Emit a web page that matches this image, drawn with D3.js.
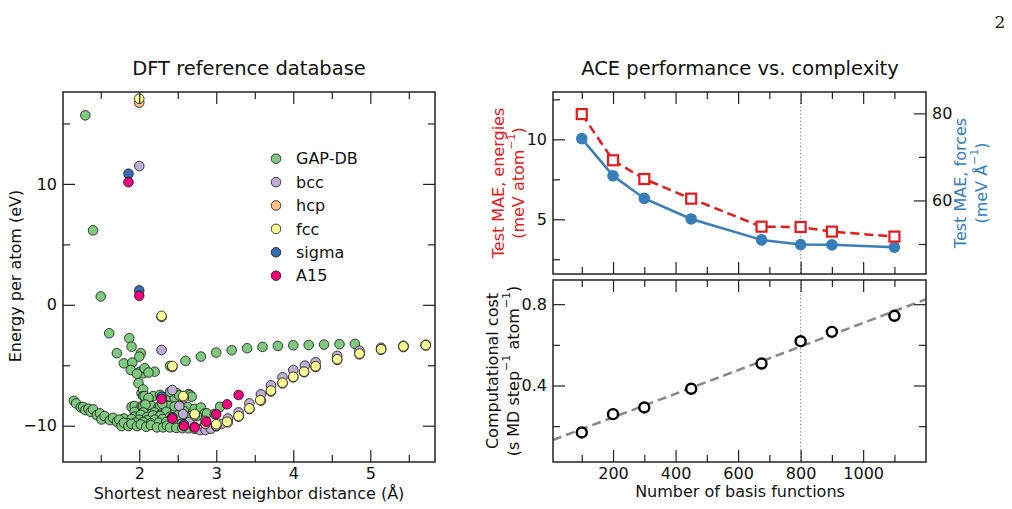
<!DOCTYPE html>
<html><head><meta charset="utf-8">
<script src="https://cdn.jsdelivr.net/npm/d3@7"></script>
<style>
body{margin:0;background:#fff}
text{font-family:"DejaVu Sans",sans-serif;fill:#111}
</style>
</head><body>
<svg id="c" width="1012" height="509"></svg>
<script>
// ---------------- data ----------------
const seriesNames = ["GAP-DB","bcc","hcp","fcc","sigma","A15"];
const gapDB = [
 [1.30,15.67],[1.40,6.16],[1.50,0.69],
 [1.61,-2.35],[1.87,-2.76],[1.90,-3.46],[1.71,-4.0],[2.02,-4.0],[2.00,-4.29],[1.80,-4.84],[1.91,-4.78],
 [1.89,-5.39],[2.01,-5.53],[2.05,-5.67],[2.20,-5.53],[2.07,-5.25],[1.97,-5.7],[2.12,-5.6],[1.99,-6.49],
 [2.40,-5.06],[2.60,-4.64],[2.80,-4.28],[3.00,-3.95],[3.20,-3.76],[3.40,-3.59],[3.60,-3.48],[3.80,-3.40],
 [4.00,-3.35],[4.20,-3.32],[4.40,-3.29],[4.60,-3.26],[4.80,-3.23],
 [2.03,-7.32],[2.05,-7.0],[2.05,-7.55],[2.07,-7.55],[2.18,-7.55],[2.27,-7.45],[2.36,-7.6],[2.40,-7.6],
 [2.46,-7.7],[2.57,-7.55],[2.64,-7.38],[2.66,-7.46],[2.68,-7.6],[2.12,-7.7],[2.40,-7.19],[2.49,-7.32],[2.52,-7.5],
 [1.90,-8.43],[1.94,-8.37],[2.03,-8.4],[2.05,-8.37],[2.14,-8.5],[2.16,-8.37],[2.25,-8.45],[2.27,-8.37],
 [2.36,-8.5],[2.38,-8.37],[2.46,-8.4],[2.55,-8.5],[2.63,-8.45],[2.72,-8.6],[2.80,-8.5],[3.05,-8.43],
 [2.08,-8.25],[2.30,-8.2],
 [1.94,-8.85],[2.05,-8.9],[2.16,-9.0],[2.20,-8.9],[2.27,-9.1],[2.35,-8.85],[2.58,-8.8],[2.85,-8.98],
 [1.94,-9.25],[2.02,-9.1],[2.10,-9.3],[2.18,-9.15],[2.27,-9.2],[2.40,-9.25],[2.50,-9.15],[2.62,-9.3],
 [2.75,-9.2],[2.88,-8.98],[2.98,-9.04],
 [1.80,-9.4],[1.90,-9.45],[2.00,-9.5],[2.10,-9.55],[2.20,-9.5],[2.30,-9.45],
 [1.85,-9.8],[1.95,-9.75],[2.05,-9.7],[2.15,-9.8],[2.25,-9.75],[2.35,-9.7],[2.45,-9.8],[2.55,-9.85],
 [1.15,-7.94],[1.18,-8.15],[1.24,-8.48],[1.27,-8.45],[1.30,-8.71],[1.34,-8.6],[1.37,-8.85],[1.40,-8.65],
 [1.45,-9.12],[1.49,-8.98],[1.51,-9.48],[1.55,-9.2],[1.62,-9.54],[1.66,-9.35],[1.71,-9.67],[1.74,-9.5],
 [1.77,-10.03],[1.80,-9.75],[1.86,-10.03],[1.90,-9.85],[1.97,-10.03],[2.02,-9.9],[2.09,-10.09],[2.15,-9.95],
 [2.23,-10.14],[2.31,-10.14],[2.36,-10.0],[2.40,-10.14],[2.48,-10.18],[2.56,-10.2],[2.64,-10.22],
 [2.72,-10.25],[2.80,-10.25],[2.88,-10.2]
];
const bcc = [
 [2.00,11.47],[2.29,-3.73],[2.43,-7.05],[2.52,-8.37],[2.57,-9.04],[2.65,-9.7],[2.72,-10.1],[2.79,-10.36],
 [2.86,-10.35],[2.93,-10.25],[3.00,-10.05],[3.07,-9.85],[3.15,-9.4],[3.29,-8.9],[3.43,-8.15],[3.58,-7.4],
 [3.71,-6.66],[3.86,-6.0],[4.00,-5.39],[4.15,-5.03],[4.29,-4.75],[4.57,-4.23],[4.86,-3.8],[5.14,-3.55],
 [5.43,-3.38],[5.72,-3.3]
];
const hcp = [
 [2.00,16.72],[2.29,-1.0],[2.43,-5.15],[2.58,-7.65],[2.72,-9.15],[2.86,-9.85],[3.00,-10.0],[3.15,-9.72],
 [3.29,-9.25],[3.43,-8.62],[3.58,-7.93],[3.71,-7.18],[3.86,-6.5],[4.00,-6.0],[4.14,-5.58],[4.29,-5.15],
 [4.57,-4.55],[4.86,-4.1],[5.14,-3.72],[5.43,-3.5],[5.72,-3.37]
];
const fcc = [
 [2.00,17.05],[2.29,-0.91],[2.43,-5.06],[2.57,-7.55],[2.72,-9.04],[2.86,-9.6],[3.00,-9.87],[3.14,-9.67],
 [3.29,-9.2],[3.43,-8.57],[3.57,-7.88],[3.71,-7.1],[3.86,-6.44],[4.00,-5.95],[4.14,-5.53],[4.29,-5.08],
 [4.57,-4.5],[4.86,-4.03],[5.14,-3.67],[5.43,-3.44],[5.72,-3.33]
];
const sigma = [[1.86,10.84],[2.00,1.19],[2.29,-7.6],[2.43,-9.3],[2.58,-9.9]];
const a15 = [
 [1.86,10.14],[2.00,0.75],[2.29,-7.8],[2.43,-9.4],[2.58,-10.03],[2.72,-10.14],[2.87,-9.67],[3.00,-9.04],
 [3.14,-8.23],[3.29,-7.46]
];

const basisN     = [100,200,300,450,675,800,900,1100];
const maeEnergy  = [11.58,8.69,7.52,6.29,4.54,4.52,4.23,3.92];
const maeForce   = [74.2,65.65,60.46,55.74,50.94,49.86,49.8,49.24];
const cost       = [0.169,0.259,0.292,0.384,0.508,0.618,0.664,0.743];
const fitX       = [8,1201];
const fitY       = [0.132,0.8245];
const selectedN  = 800;

const leftXMajor = [2,3,4,5], leftXMinor = [1.5,2.5,3.5,4.5,5.5];
const leftYMajor = [-10,0,10], leftYMinor = [-5,5,15];
const rXMajor = [200,400,600,800,1000], rXMinor = [100,300,500,700,900,1100];
const eMajor = [5,10], eMinor = [2.5,7.5,12.5];
const fMajor = [60,80], fMinor = [50,70];
const cMajor = [0.4,0.8], cMinor = [0.2,0.6];

// ---------------- setup ----------------
const svg = d3.select("#c");
const colors = {"GAP-DB":"#7fc97f","bcc":"#beaed4","hcp":"#fdc086","fcc":"#ffff99","sigma":"#386cb0","A15":"#f0027f"};
const red = "#e41a1c", blue = "#377eb8";
const fmt = d => String(d).replace("-", "\u2212");
const FS = 16, MAJ = 12, MIN = 7;

function styleAxis(gg){
  gg.select(".domain").remove();
  gg.selectAll("line").attr("stroke","#222").attr("stroke-width",1.2);
  gg.selectAll("text").attr("font-size",FS).attr("fill","#111").style("font-family","DejaVu Sans");
}
function frameAxes(g, x, y, opts){
  const [x0,x1] = x.range(), [y0,y1] = y.range();
  const mk = (axis, vals, size, format, tx, ty) => {
    const a = axis.tickValues(vals).tickSizeInner(-size).tickSizeOuter(0).tickPadding(6)
      .tickFormat(format || "");
    const gg = g.append("g").attr("transform",`translate(${tx},${ty})`).call(a);
    styleAxis(gg);
  };
  mk(d3.axisBottom(x), opts.xMajor, MAJ, opts.xFormat, 0, y0);
  mk(d3.axisBottom(x), opts.xMinor, MIN, null, 0, y0);
  mk(d3.axisTop(x), opts.xMajor, MAJ, null, 0, y1);
  mk(d3.axisTop(x), opts.xMinor, MIN, null, 0, y1);
  mk(d3.axisLeft(y), opts.yMajor, MAJ, opts.yFormat, x0, 0);
  mk(d3.axisLeft(y), opts.yMinor, MIN, null, x0, 0);
  if(opts.mirrorY){
    mk(d3.axisRight(y), opts.yMajor, MAJ, null, x1, 0);
    mk(d3.axisRight(y), opts.yMinor, MIN, null, x1, 0);
  }
  g.append("rect").attr("x",x0).attr("y",y1).attr("width",x1-x0).attr("height",y0-y1)
    .attr("fill","none").attr("stroke","#222").attr("stroke-width",1.5);
}

// ---------------- left panel ----------------
const xL = d3.scaleLinear().domain([1.01,5.84]).range([63,435]);
const yL = d3.scaleLinear().domain([-13.0,17.6]).range([462,92]);
const gL = svg.append("g");
svg.append("clipPath").attr("id","clipL").append("rect")
  .attr("x",63).attr("y",92).attr("width",372).attr("height",370);
const dataSets = [gapDB,bcc,hcp,fcc,sigma,a15];
const pts = gL.append("g").attr("clip-path","url(#clipL)");
dataSets.forEach((ds,i)=>{
  pts.append("g").selectAll("circle").data(ds).join("circle")
    .attr("cx",d=>xL(d[0])).attr("cy",d=>yL(d[1])).attr("r",4.8)
    .attr("fill",colors[seriesNames[i]]).attr("stroke","#111").attr("stroke-width",0.8);
});
frameAxes(gL, xL, yL, {xMajor:leftXMajor,xMinor:leftXMinor,xFormat:fmt,yMajor:leftYMajor,yMinor:leftYMinor,yFormat:fmt,mirrorY:true});
const leg = gL.append("g");
seriesNames.forEach((n,i)=>{
  const yy = 158.7 + i*23.4;
  leg.append("circle").attr("cx",276).attr("cy",yy).attr("r",4.8)
    .attr("fill",colors[n]).attr("stroke","#111").attr("stroke-width",0.8);
  leg.append("text").attr("x",296).attr("y",yy).attr("dy","0.35em").attr("font-size",FS).text(n);
});
svg.append("text").attr("x",249).attr("y",75).attr("text-anchor","middle").attr("font-size",19.5).text("DFT reference database");
svg.append("text").attr("x",249).attr("y",499).attr("text-anchor","middle").attr("font-size",FS).text("Shortest nearest neighbor distance (Å)");
svg.append("text").attr("transform","translate(15,276) rotate(-90)").attr("text-anchor","middle")
  .attr("dominant-baseline","central").attr("font-size",FS).text("Energy per atom (eV)");

// ---------------- right panels ----------------
const xR = d3.scaleLinear().domain([8,1201]).range([553,926]);
const yE = d3.scaleLinear().domain([1.58,12.96]).range([274,92]);
const yF = d3.scaleLinear().domain([43.1,84.9]).range([274,92]);
const yC = d3.scaleLinear().domain([0.0237,0.919]).range([462,280]);

const gT = svg.append("g");
gT.append("line").attr("x1",xR(selectedN)).attr("x2",xR(selectedN)).attr("y1",92).attr("y2",274)
  .attr("stroke","#777").attr("stroke-width",1).attr("stroke-dasharray","1.2,2.4");
frameAxes(gT, xR, yE, {xMajor:rXMajor,xMinor:rXMinor,xFormat:null,yMajor:eMajor,yMinor:eMinor,yFormat:fmt,mirrorY:false});
{
  const a1 = d3.axisRight(yF).tickValues(fMajor).tickSizeInner(-MAJ).tickSizeOuter(0).tickPadding(6);
  const a2 = d3.axisRight(yF).tickValues(fMinor).tickSizeInner(-MIN).tickSizeOuter(0).tickFormat("");
  [a1,a2].forEach(a=>{ styleAxis(gT.append("g").attr("transform","translate(926,0)").call(a)); });
}
const ptsE = basisN.map((n,i)=>[n,maeEnergy[i]]);
const ptsF = basisN.map((n,i)=>[n,maeForce[i]]);
gT.append("path").datum(ptsF).attr("fill","none").attr("stroke",blue).attr("stroke-width",2.5)
  .attr("d",d3.line().x(d=>xR(d[0])).y(d=>yF(d[1])));
gT.append("g").selectAll("circle").data(ptsF).join("circle")
  .attr("cx",d=>xR(d[0])).attr("cy",d=>yF(d[1])).attr("r",5.8).attr("fill",blue);
gT.append("path").datum(ptsE).attr("fill","none").attr("stroke",red).attr("stroke-width",2.5)
  .attr("stroke-dasharray","9,5").attr("d",d3.line().x(d=>xR(d[0])).y(d=>yE(d[1])));
gT.append("g").selectAll("rect").data(ptsE).join("rect")
  .attr("x",d=>xR(d[0])-5).attr("y",d=>yE(d[1])-5).attr("width",10).attr("height",10)
  .attr("fill","#fff").attr("stroke",red).attr("stroke-width",2.2);

function rotLabel(x,y,color,parts){
  const t = svg.append("text").attr("transform",`translate(${x},${y}) rotate(-90)`).attr("text-anchor","middle")
    .attr("dominant-baseline","central").attr("font-size",FS).style("fill",color);
  parts.forEach(p=>{
    const s = t.append("tspan").text(p[0]);
    if(p[1]) s.attr("baseline-shift","super").attr("font-size",11);
  });
}
rotLabel(498,183,red,[["Test MAE, energies"]]);
rotLabel(518,183,red,[["(meV atom"],["\u22121",1],[")"]]);
rotLabel(960,183,blue,[["Test MAE, forces"]]);
rotLabel(981,183,blue,[["(meV Å"],["\u22121",1],[")"]]);
svg.append("text").attr("x",740).attr("y",75).attr("text-anchor","middle").attr("font-size",19.5).text("ACE performance vs. complexity");

const gB = svg.append("g");
gB.append("line").attr("x1",xR(selectedN)).attr("x2",xR(selectedN)).attr("y1",280).attr("y2",462)
  .attr("stroke","#777").attr("stroke-width",1).attr("stroke-dasharray","1.2,2.4");
gB.append("line").attr("x1",xR(fitX[0])).attr("x2",xR(fitX[1])).attr("y1",yC(fitY[0])).attr("y2",yC(fitY[1]))
  .attr("stroke","#888").attr("stroke-width",2.5).attr("stroke-dasharray","9,5");
gB.append("g").selectAll("circle").data(basisN.map((n,i)=>[n,cost[i]])).join("circle")
  .attr("cx",d=>xR(d[0])).attr("cy",d=>yC(d[1])).attr("r",5).attr("fill","#fff")
  .attr("stroke","#000").attr("stroke-width",2.4);
frameAxes(gB, xR, yC, {xMajor:rXMajor,xMinor:rXMinor,xFormat:d=>String(d),yMajor:cMajor,yMinor:cMinor,yFormat:d3.format(".1f"),mirrorY:true});
svg.append("text").attr("x",740).attr("y",497).attr("text-anchor","middle").attr("font-size",FS).text("Number of basis functions");
rotLabel(492,371,"#111",[["Computational cost"]]);
rotLabel(513,371,"#111",[["(s MD step"],["\u22121",1],[" atom"],["\u22121",1],[")"]]);

svg.append("text").attr("x",1000).attr("y",28).attr("text-anchor","middle").attr("font-size",17)
  .style("font-family","'DejaVu Serif',serif").text("2");
</script>
</body></html>
